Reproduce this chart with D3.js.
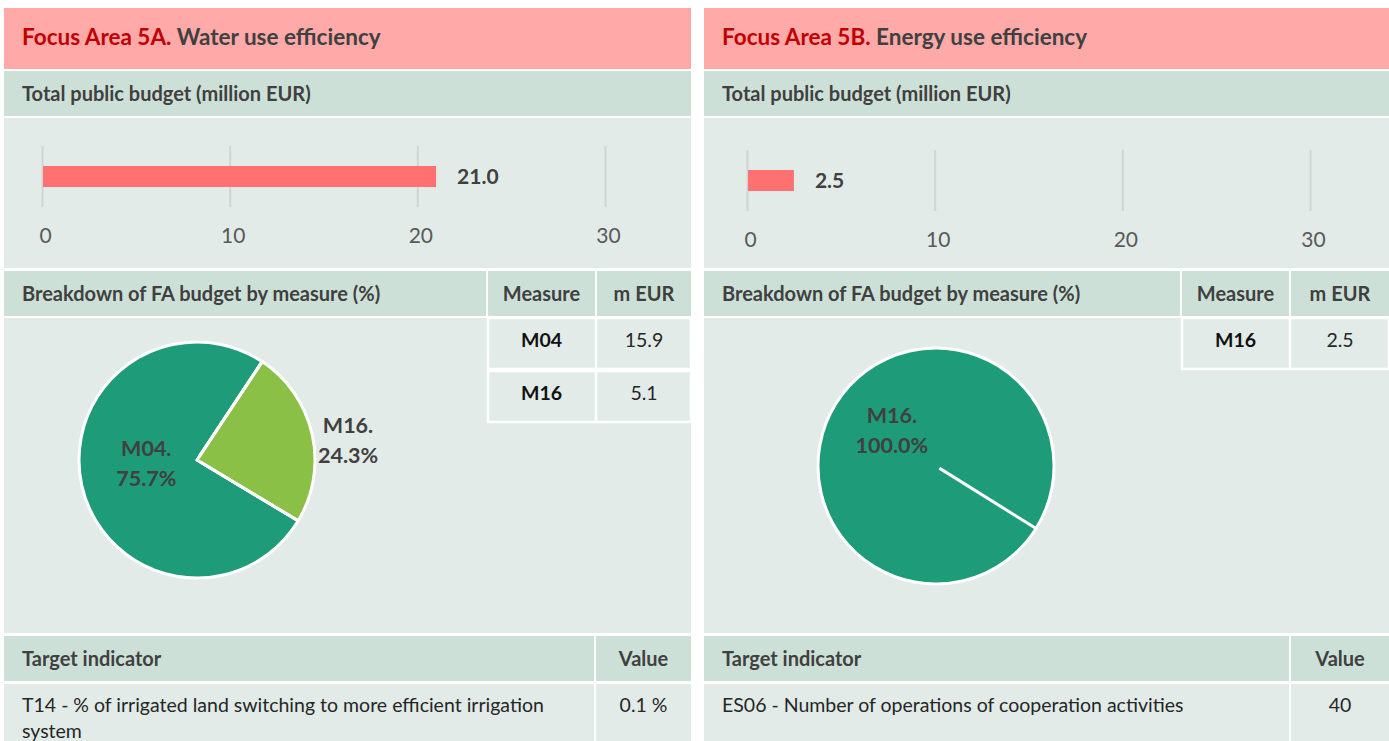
<!DOCTYPE html>
<html>
<head>
<meta charset="utf-8">
<title>Focus Areas 5A / 5B</title>
<script src="https://d3js.org/d3.v7.min.js"></script>
<style>
    body { margin: 0; background: #fff; }
    svg { display: block; font-family: Lato, 'Open Sans', sans-serif; }
    .title { font-size: 22.5px; font-weight: bold; fill: #404040; }
    .title .code { fill: #c00000; }
    .head { font-size: 20px; font-weight: bold; fill: #404040; }
    .barlabel { font-size: 21px; font-weight: bold; fill: #404040; }
    .pielabel { font-size: 21.5px; font-weight: bold; fill: #404040; }
    .cell { font-size: 19.5px; fill: #262626; }
    .cell.b { font-weight: bold; fill: #111; }
</style>
</head>
<body>
<script>
//DATA
var focusCodes  = ['Focus Area 5A.', 'Focus Area 5B.'];
var focusNames  = ['Water use efficiency', 'Energy use efficiency'];
var totalBudget = [21.0, 2.5];
var budgetTicks = [0, 10, 20, 30];

var measures5A = ['M04', 'M16'];
var mEur5A     = [15.9, 5.1];
var shares5A   = [75.7, 24.3];

var measures5B = ['M16'];
var mEur5B     = [2.5];
var shares5B   = [100.0];

var indicators      = ['T14 - % of irrigated land switching to more efficient irrigation system',
                       'ES06 - Number of operations of cooperation activities'];
var indicatorValues = ['0.1 %', '40'];

var measures = [measures5A, measures5B];
var mEur     = [mEur5A, mEur5B];
var shares   = [shares5A, shares5B];

//COLOURS
var C = {
    title: '#ffa9a9', head: '#cde0d7', body: '#e2ebe7',
    bar: '#ff7070', grid: '#d2d4d3'
};
// slices are coloured by their order in the pie
var sliceColor = d3.scaleOrdinal().domain([0, 1]).range(['#1e9b78', '#8bc047']);

//LAYOUT (per panel)
var panels = [
    { x: 4,   w: 687, split: 482, col: 107, vcol: 95, dx: 0, dy: 0, cx: 197, cy: 460, start: 121 },
    { x: 704, w: 685, split: 476, col: 107, vcol: 98, dx: 5, dy: 4, cx: 936, cy: 466, start: 122 }
];
var pieR = 118;

var svg = d3.select('body').append('svg')
    .attr('width', 1389).attr('height', 741);

panels.forEach(function(p, k) {
    var g = svg.append('g');
    var right = p.x + p.w;

    // bands
    g.append('rect').attr('x', p.x).attr('y', 8).attr('width', p.w).attr('height', 61).attr('fill', C.title);
    g.append('rect').attr('x', p.x).attr('y', 71).attr('width', p.w).attr('height', 45).attr('fill', C.head);
    g.append('rect').attr('x', p.x).attr('y', 118).attr('width', p.w).attr('height', 150).attr('fill', C.body);
    // breakdown header (3 cells)
    var mx = p.x + p.split + 2, vx = mx + p.col + 2;
    g.append('rect').attr('x', p.x).attr('y', 271).attr('width', p.split).attr('height', 45).attr('fill', C.head);
    g.append('rect').attr('x', mx).attr('y', 271).attr('width', p.col).attr('height', 45).attr('fill', C.head);
    g.append('rect').attr('x', vx).attr('y', 271).attr('width', right - vx).attr('height', 45).attr('fill', C.head);
    g.append('rect').attr('x', p.x).attr('y', 318).attr('width', p.w).attr('height', 315).attr('fill', C.body);
    // target indicator
    var tx = right - p.vcol;
    g.append('rect').attr('x', p.x).attr('y', 636).attr('width', tx - p.x - 2).attr('height', 45).attr('fill', C.head);
    g.append('rect').attr('x', tx).attr('y', 636).attr('width', p.vcol).attr('height', 45).attr('fill', C.head);
    g.append('rect').attr('x', p.x).attr('y', 684).attr('width', tx - p.x - 2).attr('height', 60).attr('fill', C.body);
    g.append('rect').attr('x', tx).attr('y', 684).attr('width', p.vcol).attr('height', 60).attr('fill', C.body);

    // title
    var t = g.append('text').attr('class', 'title').attr('x', p.x + 18).attr('y', 45);
    t.append('tspan').attr('class', 'code').text(focusCodes[k] + ' ');
    t.append('tspan').text(focusNames[k]);

    g.append('text').attr('class', 'head').attr('x', p.x + 18).attr('y', 101).text('Total public budget (million EUR)');

    // bar chart
    var x = d3.scaleLinear().domain([0, 30]).range([p.x + 38 + p.dx, p.x + 601 + p.dx]);
    var y0 = 146 + p.dy;
    var axis = g.append('g')
        .attr('transform', 'translate(0,' + y0 + ')')
        .call(d3.axisBottom(x).tickValues(budgetTicks).tickSize(61).tickPadding(21).tickFormat(d3.format('d')));
    axis.select('.domain').remove();
    axis.selectAll('line').attr('stroke', C.grid).attr('stroke-width', 2);
    axis.selectAll('.tick text').attr('dx', 3)
        .style('font-size', '21px').style('fill', '#595959').style('font-family', 'Lato, sans-serif');

    g.append('rect').attr('x', x(0) + 1).attr('y', y0 + 20).attr('height', 21)
        .attr('width', x(totalBudget[k]) - x(0) - 1).attr('fill', C.bar);
    g.append('text').attr('class', 'barlabel')
        .attr('x', x(totalBudget[k]) + 21).attr('y', y0 + 38)
        .text(d3.format('.1f')(totalBudget[k]));

    // breakdown header
    g.append('text').attr('class', 'head').attr('x', p.x + 18).attr('y', 301).text('Breakdown of FA budget by measure (%)');
    g.append('text').attr('class', 'head').attr('x', mx + p.col / 2).attr('y', 301).attr('text-anchor', 'middle').text('Measure');
    g.append('text').attr('class', 'head').attr('x', vx + (right - vx) / 2).attr('y', 301).attr('text-anchor', 'middle').text('m EUR');

    // measures table
    measures[k].forEach(function(m, i) {
        var ry = 318 + i * 53;
        g.append('rect').attr('x', mx).attr('y', ry).attr('width', right - mx).attr('height', 51)
            .attr('fill', 'none').attr('stroke', '#fff').attr('stroke-width', 2.5);
        g.append('line').attr('x1', vx - 1).attr('x2', vx - 1).attr('y1', ry).attr('y2', ry + 51)
            .attr('stroke', '#fff').attr('stroke-width', 2.5);
        g.append('text').attr('class', 'cell b').attr('x', mx + p.col / 2).attr('y', ry + 29)
            .attr('text-anchor', 'middle').text(m);
        g.append('text').attr('class', 'cell').attr('x', vx + (right - vx) / 2).attr('y', ry + 29)
            .attr('text-anchor', 'middle').text(d3.format('.1f')(mEur[k][i]));
    });

    // pie
    var rows = measures[k].map(function(m, i) { return { m: m, v: shares[k][i] }; });
    var a0 = p.start * Math.PI / 180;
    var pie = d3.pie().sort(null).value(function(d) { return d.v; })
        .startAngle(a0).endAngle(a0 + 2 * Math.PI);
    var arc = d3.arc().innerRadius(0).outerRadius(pieR);
    var pg = g.append('g').attr('transform', 'translate(' + p.cx + ',' + p.cy + ')');
    var arcs = pie(rows);
    pg.selectAll('path').data(arcs).enter().append('path')
        .attr('d', arc)
        .attr('fill', function(d) { return sliceColor(d.index); })
        .attr('stroke', '#fff').attr('stroke-width', 3).attr('stroke-linejoin', 'round');
    // slice separators
    pg.selectAll('.sep').data(arcs).enter().append('line').attr('class', 'sep')
        .attr('x1', function(d) { return 4 * Math.sin(d.startAngle); })
        .attr('y1', function(d) { return -4 * Math.cos(d.startAngle); })
        .attr('x2', function(d) { return pieR * Math.sin(d.startAngle); })
        .attr('y2', function(d) { return -pieR * Math.cos(d.startAngle); })
        .attr('stroke', '#fff').attr('stroke-width', 3);

    // labels: inside for big slices, outside (best fit) for small
    var inner = d3.arc().innerRadius(52).outerRadius(52);
    arcs.forEach(function(d) {
        var big = (d.endAngle - d.startAngle) > Math.PI;
        var c = big ? inner.centroid(d) : [151, -21];
        if (big) c = [c[0], c[1] - 9];
        var lt = pg.append('text').attr('class', 'pielabel').attr('text-anchor', 'middle')
            .attr('transform', 'translate(' + c[0] + ',' + c[1] + ')');
        lt.append('tspan').attr('x', 0).attr('y', -6).text(d.data.m + '.');
        lt.append('tspan').attr('x', 0).attr('y', 24).text(d3.format('.1f')(d.data.v) + '%');
    });

    // target indicator
    g.append('text').attr('class', 'head').attr('x', p.x + 18).attr('y', 666).text('Target indicator');
    g.append('text').attr('class', 'head').attr('x', tx + p.vcol / 2).attr('y', 666).attr('text-anchor', 'middle').text('Value');

    var it = g.append('text').attr('class', 'cell').attr('x', p.x + 18).attr('y', 712);
    wrap(it, indicators[k], tx - p.x - 40, p.x + 18, 26);
    g.append('text').attr('class', 'cell').attr('x', tx + p.vcol / 2).attr('y', 712)
        .attr('text-anchor', 'middle').text(indicatorValues[k]);
});

function wrap(text, str, width, x, lh) {
    var words = str.split(' '), line = [];
    var ts = text.append('tspan').attr('x', x).attr('dy', 0);
    words.forEach(function(w) {
        line.push(w);
        ts.text(line.join(' '));
        if (ts.node().getComputedTextLength() > width && line.length > 1) {
            line.pop();
            ts.text(line.join(' '));
            line = [w];
            ts = text.append('tspan').attr('x', x).attr('dy', lh).text(w);
        }
    });
}
</script>
</body>
</html>
